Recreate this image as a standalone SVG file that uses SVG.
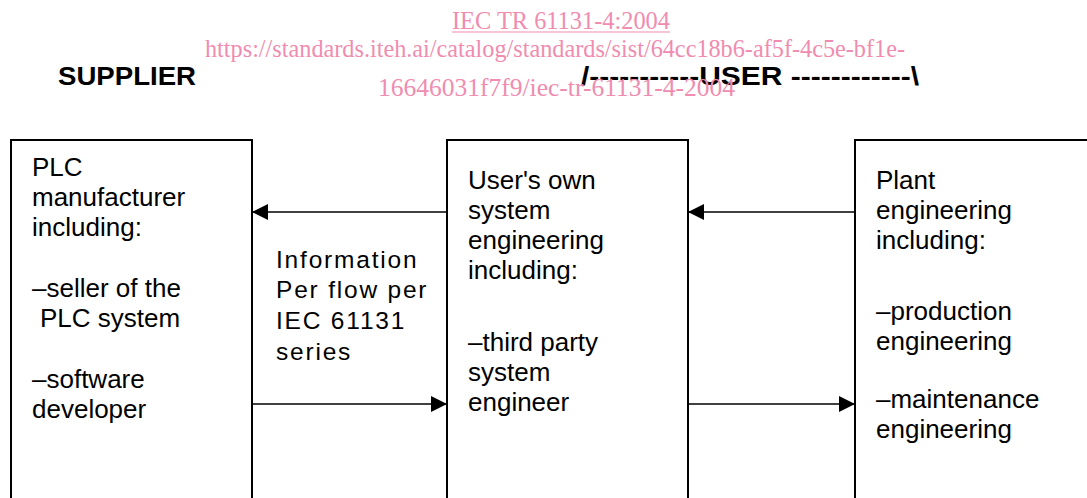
<svg xmlns="http://www.w3.org/2000/svg" width="1087" height="498" viewBox="0 0 1087 498">
<style>
.box{fill:#fff;stroke:#000;stroke-width:2}
.t{font-family:"Liberation Sans",Arial,sans-serif;font-size:26px;fill:#000}
.info{font-family:"Liberation Sans",Arial,sans-serif;font-size:24.5px;letter-spacing:1.8px;fill:#000}
.hd{font-family:"Liberation Sans",Arial,sans-serif;font-size:26px;font-weight:bold;fill:#000}
.wm{font-family:"Liberation Serif","Times New Roman",serif;font-size:26px;fill:#f08cb0}
.ln{stroke:#000;stroke-width:1.6;fill:none}
</style>
<defs>
<marker id="ah" viewBox="0 0 16 16" refX="16" refY="8" markerWidth="16" markerHeight="16" markerUnits="userSpaceOnUse" orient="auto">
<path d="M0,0 L16,8 L0,16 Z" fill="#000"/>
</marker>
</defs>
<g id="header">
<text class="hd" x="58" y="85" textLength="138" lengthAdjust="spacingAndGlyphs">SUPPLIER</text>
<text class="hd" x="581" y="85" textLength="338" lengthAdjust="spacingAndGlyphs">/-----------USER ------------\</text>
</g>
<g id="watermark">
<text class="wm" x="452" y="29" textLength="218" lengthAdjust="spacingAndGlyphs">IEC TR 61131-4:2004</text>
<line x1="452" y1="32" x2="670" y2="32" stroke="#f08cb0" stroke-width="1.2"/>
<text class="wm" x="205" y="57" textLength="700" lengthAdjust="spacingAndGlyphs">https://standards.iteh.ai/catalog/standards/sist/64cc18b6-af5f-4c5e-bf1e-</text>
<text class="wm" x="378" y="96" textLength="357" lengthAdjust="spacingAndGlyphs">16646031f7f9/iec-tr-61131-4-2004</text>
</g>
<g id="supplier">
<rect class="box" x="11" y="140" width="241" height="380"/>
<text class="t" x="32" y="176">PLC</text>
<text class="t" x="32" y="206">manufacturer</text>
<text class="t" x="32" y="236">including:</text>
<text class="t" x="32" y="297">–seller of the</text>
<text class="t" x="40" y="327">PLC system</text>
<text class="t" x="32" y="388">–software</text>
<text class="t" x="32" y="418">developer</text>
</g>
<g id="user-system">
<rect class="box" x="447" y="140" width="241" height="380"/>
<text class="t" x="468" y="189">User's own</text>
<text class="t" x="468" y="219">system</text>
<text class="t" x="468" y="249">engineering</text>
<text class="t" x="468" y="279">including:</text>
<text class="t" x="468" y="351">–third party</text>
<text class="t" x="468" y="381">system</text>
<text class="t" x="468" y="411">engineer</text>
</g>
<g id="plant">
<rect class="box" x="855" y="140" width="260" height="380"/>
<text class="t" x="876" y="189">Plant</text>
<text class="t" x="876" y="219">engineering</text>
<text class="t" x="876" y="249">including:</text>
<text class="t" x="876" y="320">–production</text>
<text class="t" x="876" y="350">engineering</text>
<text class="t" x="876" y="408">–maintenance</text>
<text class="t" x="876" y="438">engineering</text>
</g>
<g id="info-label">
<text class="info" x="276" y="268">Information</text>
<text class="info" x="276" y="298">Per flow per</text>
<text class="info" x="276" y="329">IEC 61131</text>
<text class="info" x="276" y="360">series</text>
</g>
<g id="connectors">
<line class="ln" x1="447" y1="212" x2="252" y2="212" marker-end="url(#ah)"/>
<line class="ln" x1="252" y1="404" x2="447" y2="404" marker-end="url(#ah)"/>
<line class="ln" x1="855" y1="212" x2="688" y2="212" marker-end="url(#ah)"/>
<line class="ln" x1="688" y1="404" x2="855" y2="404" marker-end="url(#ah)"/>
</g>
</svg>
